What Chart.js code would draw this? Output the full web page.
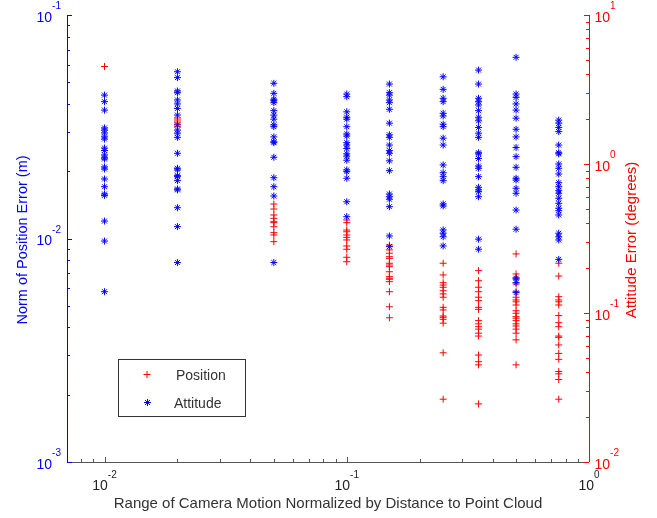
<!DOCTYPE html>
<html>
<head>
<meta charset="utf-8">
<script src="https://cdn.jsdelivr.net/npm/chart.js@4"></script>
<style>
  html, body { margin: 0; padding: 0; background: #fff; }
  #wrap { width: 657px; height: 518px; }
</style>
</head>
<body>
<div id="wrap"><canvas id="c" width="657" height="518"></canvas></div>
<script>
// camera motion range / distance to point cloud
const motionRange = [0.01, 0.02, 0.05, 0.1, 0.15, 0.25, 0.35, 0.5, 0.75];

// position error (m), one list per motion range
const positionErr = [
    [0.0588],
    [0.0346, 0.0339, 0.0332, 0.0325, 0.0316],
    [0.01426, 0.01355, 0.01274, 0.01231, 0.01189, 0.01177, 0.01129, 0.01062, 0.01037, 0.00968],
    [0.0121, 0.01177, 0.01091, 0.01072, 0.01037, 0.01012, 0.00985, 0.00926, 0.00895, 0.00824, 0.00787],
    [0.00935, 0.00889, 0.00859, 0.00829, 0.00815, 0.00775, 0.00761, 0.00748, 0.0071, 0.00675, 0.00664, 0.00657, 0.00641, 0.00578, 0.00495, 0.00442],
    [0.00775, 0.00687, 0.00634, 0.00619, 0.00605, 0.00584, 0.00565, 0.00546, 0.00492, 0.00479, 0.0045, 0.00444, 0.00435, 0.00418, 0.00308, 0.00191],
    [0.00718, 0.00647, 0.00605, 0.00578, 0.00546, 0.00527, 0.00492, 0.00482, 0.00429, 0.00415, 0.00403, 0.00393, 0.00377, 0.00366, 0.00301, 0.00281, 0.00272, 0.00182],
    [0.00853, 0.00694, 0.0067, 0.00657, 0.00626, 0.00578, 0.00546, 0.00531, 0.00521, 0.00504, 0.00475, 0.00463, 0.00447, 0.0044, 0.00429, 0.00415, 0.00406, 0.00393, 0.00377, 0.00352, 0.00272],
    [0.00775, 0.00679, 0.00549, 0.00531, 0.00521, 0.00504, 0.00452, 0.0042, 0.00403, 0.00366, 0.00361, 0.00334, 0.00306, 0.00288, 0.00254, 0.00248, 0.00234, 0.00191]
];

// attitude error (degrees), one list per motion range
const attitudeErr = [
    [2.9, 2.62, 2.3, 1.745, 1.69, 1.615, 1.52, 1.47, 1.28, 1.23, 1.15, 1.1, 1.08, 0.955, 0.925, 0.793, 0.704, 0.629, 0.616, 0.414, 0.304, 0.139],
    [4.16, 3.8, 3.09, 3.01, 2.69, 2.53, 2.36, 2.13, 1.83, 1.69, 1.61, 1.51, 1.18, 0.936, 0.912, 0.835, 0.822, 0.773, 0.68, 0.67, 0.509, 0.38, 0.218],
    [3.48, 2.98, 2.72, 2.66, 2.58, 2.28, 2.13, 2.0, 1.83, 1.78, 1.52, 1.41, 1.39, 1.11, 0.809, 0.704, 0.61, 0.218],
    [2.95, 2.83, 2.24, 2.06, 2.0, 1.78, 1.59, 1.54, 1.39, 1.34, 1.27, 1.17, 1.13, 1.06, 0.912, 0.888, 0.802, 0.558, 0.443],
    [3.44, 3.01, 2.9, 2.69, 2.58, 2.33, 1.88, 1.57, 1.51, 1.34, 1.23, 1.18, 1.05, 0.902, 0.629, 0.603, 0.58, 0.517, 0.329, 0.279],
    [3.85, 3.17, 2.76, 2.62, 2.19, 2.1, 1.85, 1.78, 1.49, 1.34, 0.985, 0.874, 0.822, 0.773, 0.539, 0.523, 0.361, 0.343, 0.325, 0.282],
    [4.27, 3.44, 2.76, 2.62, 2.49, 2.28, 2.06, 1.95, 1.76, 1.61, 1.51, 1.19, 1.17, 1.09, 0.97, 0.936, 0.822, 0.698, 0.67, 0.652, 0.603, 0.313, 0.268],
    [5.2, 2.95, 2.8, 2.53, 2.3, 2.03, 1.71, 1.52, 1.29, 1.12, 0.95, 0.802, 0.781, 0.687, 0.636, 0.491, 0.365, 0.171, 0.16, 0.137],
    [1.97, 1.88, 1.76, 1.65, 1.34, 1.19, 1.17, 1.0, 0.936, 0.857, 0.749, 0.704, 0.662, 0.636, 0.589, 0.545, 0.505, 0.486, 0.455, 0.343, 0.325, 0.309, 0.229]
];

// decade exponents for tick labels
const xTickExps = [-2, -1, 0];
const posTickExps = [-3, -2, -1];
const attTickExps = [-2, -1, 0, 1];

const FONT = '"Liberation Sans", Arial, Helvetica, sans-serif';
const BLUE = "#0000ff";
const RED = "#ff0000";
const GRAY = "#333333";

function toPoints(xs, lists){
    var pts = [];
    for (var i = 0; i < xs.length; i++){
        for (var j = 0; j < lists[i].length; j++){
            pts.push({x: xs[i], y: lists[i][j]});
        }
    }
    return pts;
}

function drawPow(ctx, exp, x, y, align, color){
    ctx.fillStyle = color;
    ctx.textBaseline = "alphabetic";
    ctx.textAlign = "left";
    ctx.font = "14px " + FONT;
    var w10 = ctx.measureText("10").width;
    ctx.font = "10px " + FONT;
    var s = String(exp);
    var we = ctx.measureText(s).width;
    var total = w10 + we;
    var x0 = x;
    if (align === "right") x0 = x - total;
    if (align === "center") x0 = x - total / 2;
    ctx.font = "14px " + FONT;
    ctx.fillText("10", x0, y);
    ctx.font = "10px " + FONT;
    ctx.fillText(s, x0 + w10, y - 12.5);
}

// every log tick (1..9 x 10^n) inside the scale range
function logTicks(scale){
    var out = [];
    var lo = Math.floor(Math.log10(scale.min));
    var hi = Math.ceil(Math.log10(scale.max));
    for (var d = lo; d <= hi; d++){
        for (var m = 1; m <= 9; m++){
            var v = m * Math.pow(10, d);
            if (v >= scale.min * 0.9999 && v <= scale.max * 1.0001) out.push({v: v, major: m === 1});
        }
    }
    return out;
}

const axesPlugin = {
    id: "matlabAxes",
    afterDraw(chart){
        var ctx = chart.ctx;
        var a = chart.chartArea;
        var xs = chart.scales.x, yl = chart.scales.yPos, yr = chart.scales.yAtt;
        var midY = (a.top + a.bottom) / 2;
        ctx.save();
        ctx.lineWidth = 1;

        // bottom axis
        ctx.strokeStyle = "#555555";
        ctx.beginPath();
        ctx.moveTo(a.left, Math.round(a.bottom) + 0.5);
        ctx.lineTo(a.right, Math.round(a.bottom) + 0.5);
        logTicks(xs).forEach(function(t){
            var px = Math.round(xs.getPixelForValue(t.v)) + 0.5;
            ctx.moveTo(px, a.bottom);
            ctx.lineTo(px, a.bottom - (t.major ? 5 : 3));
        });
        ctx.stroke();

        // left axis
        ctx.strokeStyle = BLUE;
        ctx.beginPath();
        ctx.moveTo(Math.round(a.left) + 0.5, a.top);
        ctx.lineTo(Math.round(a.left) + 0.5, a.bottom);
        logTicks(yl).forEach(function(t){
            var py = Math.round(yl.getPixelForValue(t.v)) + 0.5;
            ctx.moveTo(a.left, py);
            ctx.lineTo(a.left + (t.major ? 5 : 3), py);
        });
        ctx.stroke();

        // right axis
        ctx.strokeStyle = RED;
        ctx.beginPath();
        ctx.moveTo(Math.round(a.right) + 0.5, a.top);
        ctx.lineTo(Math.round(a.right) + 0.5, a.bottom);
        logTicks(yr).forEach(function(t){
            var py = Math.round(yr.getPixelForValue(t.v)) + 0.5;
            ctx.moveTo(a.right, py);
            ctx.lineTo(a.right - (t.major ? 5 : 3), py);
        });
        ctx.stroke();

        // tick labels
        xTickExps.forEach(function(e){
            drawPow(ctx, e, xs.getPixelForValue(Math.pow(10, e)), a.bottom + 28, "center", "#222222");
        });
        posTickExps.forEach(function(e){
            drawPow(ctx, e, a.left - 6, yl.getPixelForValue(Math.pow(10, e)) + 6.5, "right", BLUE);
        });
        attTickExps.forEach(function(e){
            drawPow(ctx, e, a.right + 5.5, yr.getPixelForValue(Math.pow(10, e)) + 6.5, "left", RED);
        });

        // axis titles
        ctx.textAlign = "center";
        ctx.textBaseline = "middle";
        ctx.font = "15px " + FONT;
        ctx.fillStyle = GRAY;
        ctx.fillText("Range of Camera Motion Normalized by Distance to Point Cloud", (a.left + a.right) / 2, 504);

        ctx.save();
        ctx.font = "14.5px " + FONT;
        ctx.translate(22.5, midY + 1.5);
        ctx.rotate(-Math.PI / 2);
        ctx.fillStyle = BLUE;
        ctx.fillText("Norm of Position Error (m)", 0, 0);
        ctx.restore();

        ctx.save();
        ctx.font = "15px " + FONT;
        ctx.translate(631.5, midY + 1.5);
        ctx.rotate(-Math.PI / 2);
        ctx.fillStyle = RED;
        ctx.fillText("Attitude Error (degrees)", 0, 0);
        ctx.restore();

        // legend
        ctx.font = "14px " + FONT;
        ctx.fillStyle = "#ffffff";
        ctx.fillRect(118, 359, 128, 58);
        ctx.strokeStyle = "#333333";
        ctx.strokeRect(118.5, 359.5, 127, 57);
        ctx.lineWidth = 1;
        ctx.strokeStyle = RED;
        ctx.beginPath();
        ctx.moveTo(143.5, 374.5); ctx.lineTo(150.5, 374.5);
        ctx.moveTo(147, 371); ctx.lineTo(147, 378);
        ctx.stroke();
        ctx.strokeStyle = BLUE;
        ctx.beginPath();
        ctx.moveTo(144, 402.5); ctx.lineTo(151, 402.5);
        ctx.moveTo(147.5, 399); ctx.lineTo(147.5, 406);
        ctx.moveTo(145, 400); ctx.lineTo(150, 405);
        ctx.moveTo(150, 400); ctx.lineTo(145, 405);
        ctx.stroke();
        ctx.fillStyle = GRAY;
        ctx.textAlign = "left";
        ctx.textBaseline = "middle";
        ctx.fillText("Position", 176, 376);
        ctx.fillText("Attitude", 174, 404);

        ctx.restore();
    }
};

var ctx = document.getElementById("c").getContext("2d");
var chart = new Chart(ctx, {
    type: "scatter",
    data: {
        datasets: [
            {
                label: "Attitude",
                data: toPoints(motionRange, attitudeErr),
                yAxisID: "yAtt",
                pointStyle: "star",
                radius: 3.5,
                borderWidth: 1,
                borderColor: BLUE,
                backgroundColor: BLUE
            },
            {
                label: "Position",
                data: toPoints(motionRange, positionErr),
                yAxisID: "yPos",
                pointStyle: "cross",
                radius: 3.5,
                borderWidth: 1,
                borderColor: RED,
                backgroundColor: RED
            }
        ]
    },
    options: {
        responsive: false,
        animation: false,
        events: [],
        layout: { padding: { top: 15, left: 0, right: 0, bottom: 0 } },
        plugins: {
            legend: { display: false },
            tooltip: { enabled: false }
        },
        scales: {
            x: {
                type: "logarithmic",
                min: 0.007,
                max: 1,
                grid: { display: false },
                border: { display: false },
                ticks: { display: false },
                afterFit: function(s){ s.height = 56; }
            },
            yPos: {
                type: "logarithmic",
                position: "left",
                min: 0.001,
                max: 0.1,
                grid: { display: false },
                border: { display: false },
                ticks: { display: false },
                afterFit: function(s){ s.width = 67; }
            },
            yAtt: {
                type: "logarithmic",
                position: "right",
                min: 0.01,
                max: 10,
                grid: { display: false },
                border: { display: false },
                ticks: { display: false },
                afterFit: function(s){ s.width = 68; }
            }
        }
    },
    plugins: [axesPlugin]
});
</script>
</body>
</html>
